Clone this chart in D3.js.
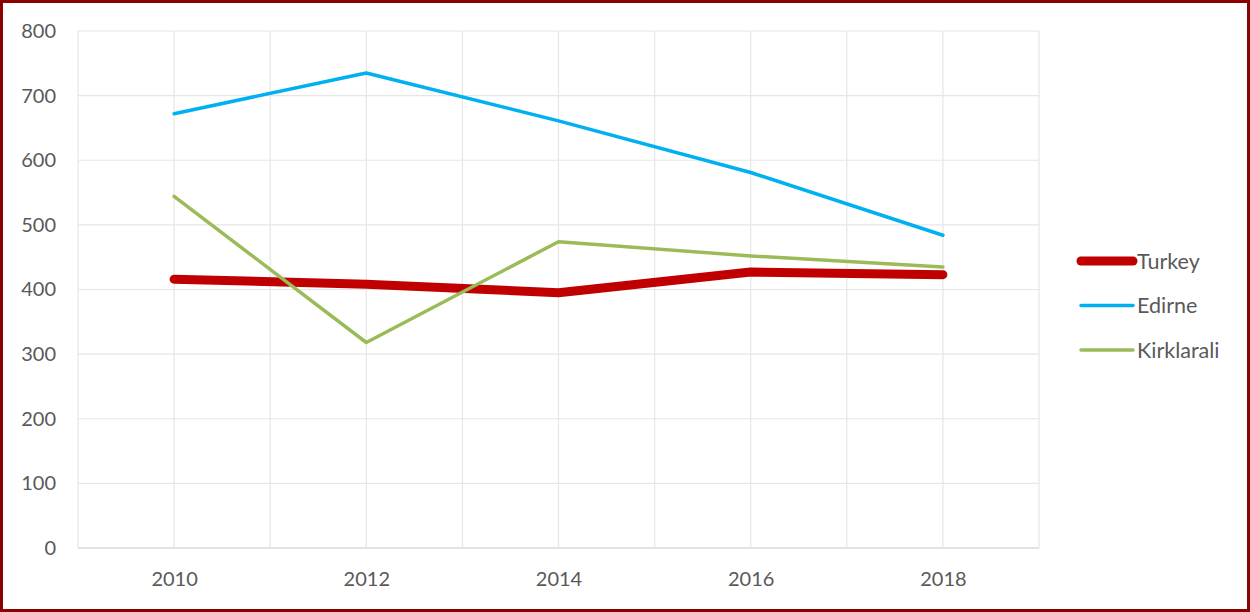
<!DOCTYPE html>
<html>
<head>
<meta charset="utf-8">
<script src="https://cdn.jsdelivr.net/npm/d3@7"></script>
<style>
  html, body { margin: 0; padding: 0; background: #fff; }
  svg { display: block; }
  text { font-family: Lato, "Open Sans", "Liberation Sans", sans-serif; fill: #595959; }
</style>
</head>
<body>
<svg id="chart" width="1250" height="612"></svg>
<script>
// Yearly values per region
const years = [2010, 2012, 2014, 2016, 2018];
const turkey = [416, 408, 395, 427, 423];
const edirne = [672, 735, 661, 581, 484];
const kirklarali = [544, 318, 474, 452, 435];
const yTicks = [0, 100, 200, 300, 400, 500, 600, 700, 800];

const seriesNames = ["Turkey", "Edirne", "Kirklarali"];
const seriesValues = [turkey, edirne, kirklarali];
const seriesColors = ["#C00000", "#00B0F0", "#9BBB59"];
const seriesWidths = [9, 3.5, 3.5];

const svg = d3.select("#chart");
const W = 1250, H = 612;

// Outer frame
svg.append("rect")
  .attr("x", 1.5).attr("y", 1.5)
  .attr("width", W - 3).attr("height", H - 3)
  .attr("fill", "#fff")
  .attr("stroke", "#8B0000").attr("stroke-width", 3);

const plot = { left: 78, right: 1039, top: 31, bottom: 548 };

const x = d3.scaleLinear().domain([2009, 2019]).range([plot.left, plot.right]);
const y = d3.scaleLinear().domain([0, 800]).range([plot.bottom, plot.top]);

const grid = svg.append("g");
// Horizontal gridlines
grid.selectAll("line.h").data(yTicks).join("line")
  .attr("x1", plot.left).attr("x2", plot.right)
  .attr("y1", d => y(d)).attr("y2", d => y(d))
  .attr("stroke", d => d === 0 ? "#d9d9d9" : "#e6e6e6")
  .attr("stroke-width", d => d === 0 ? 1.5 : 1.2);
// Vertical gridlines, one per year
grid.selectAll("line.v").data(d3.range(2009, 2020)).join("line")
  .attr("x1", d => x(d)).attr("x2", d => x(d))
  .attr("y1", plot.top).attr("y2", plot.bottom)
  .attr("stroke", "#e6e6e6").attr("stroke-width", 1.2);

// Y axis labels
const yAxis = d3.axisLeft(y).tickValues(yTicks).tickSize(0).tickPadding(22);
svg.append("g")
  .attr("transform", `translate(${plot.left},0)`)
  .call(yAxis)
  .call(g => g.select(".domain").remove())
  .call(g => g.selectAll("text")
    .style("font-size", "20px")
    .style("font-family", "Lato, 'Open Sans', sans-serif")
    .attr("fill", "#595959"));

// X axis labels
const xAxis = d3.axisBottom(x).tickValues(years).tickFormat(d3.format("d")).tickSize(0).tickPadding(24);
svg.append("g")
  .attr("transform", `translate(0,${plot.bottom})`)
  .call(xAxis)
  .call(g => g.select(".domain").remove())
  .call(g => g.selectAll("text")
    .style("font-size", "20px")
    .style("font-family", "Lato, 'Open Sans', sans-serif")
    .attr("fill", "#595959"));

// Series lines
const line = d3.line().x((d, i) => x(years[i])).y(d => y(d));
seriesValues.forEach((vals, k) => {
  svg.append("path")
    .datum(vals)
    .attr("d", line)
    .attr("fill", "none")
    .attr("stroke", seriesColors[k])
    .attr("stroke-width", seriesWidths[k])
    .attr("stroke-linecap", "round")
    .attr("stroke-linejoin", "round");
});

// Legend
const legend = svg.append("g").attr("transform", "translate(1077,261)");
seriesNames.forEach((name, i) => {
  const g = legend.append("g").attr("transform", `translate(0,${i * 44.5})`);
  g.append("line")
    .attr("x1", 4).attr("x2", 56)
    .attr("stroke", seriesColors[i])
    .attr("stroke-width", seriesWidths[i])
    .attr("stroke-linecap", "round");
  g.append("text")
    .attr("x", 60).attr("y", 0)
    .attr("dy", "0.35em")
    .style("font-size", "21.5px")
    .text(name);
});
</script>
</body>
</html>
